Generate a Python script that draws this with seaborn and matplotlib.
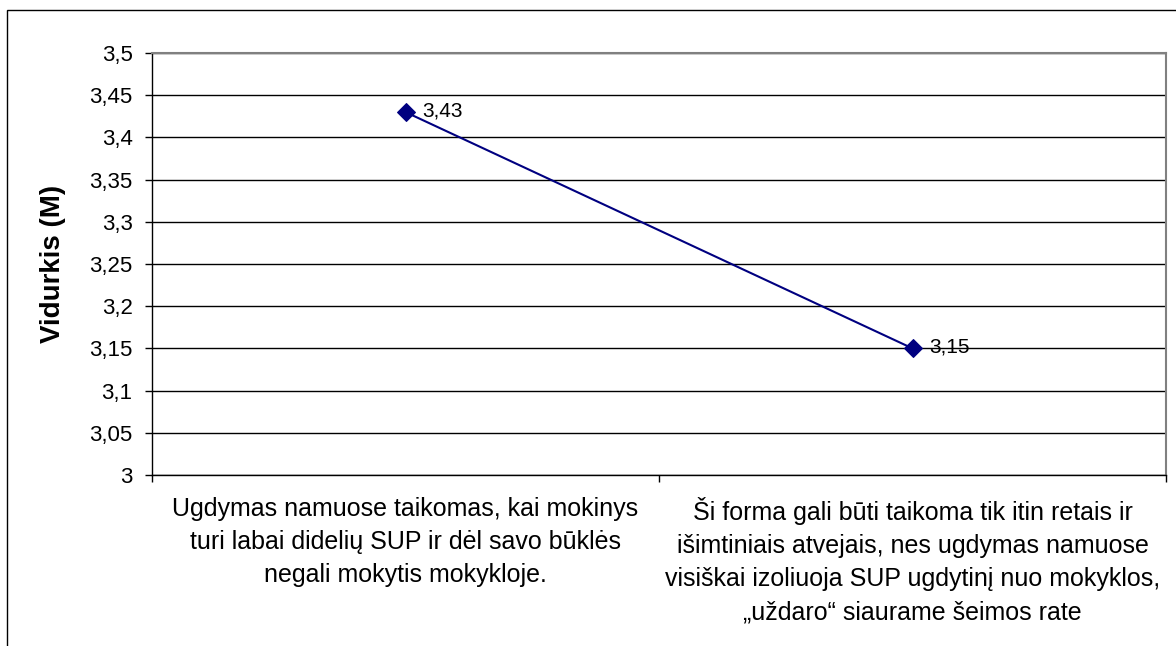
import matplotlib
matplotlib.use("Agg")
import matplotlib.pyplot as plt
import seaborn as sns
import pandas as pd
from matplotlib.patches import Rectangle
from matplotlib.ticker import FuncFormatter, FixedLocator

CATEGORIES = [
    'Ugdymas namuose taikomas, kai mokinys\nturi labai didelių SUP ir dėl savo būklės\nnegali mokytis mokykloje.',
    'Ši forma gali būti taikoma tik itin retais ir\nišimtiniais atvejais, nes ugdymas namuose\nvisiškai izoliuoja SUP ugdytinį nuo mokyklos,\n„uždaro“ siaurame šeimos rate',
]
VALUES = [3.43, 3.15]
Y_TICKS = [3.0, 3.05, 3.1, 3.15, 3.2, 3.25, 3.3, 3.35, 3.4, 3.45, 3.5]

sns.set_theme(style='white', rc={'text.color': 'black', 'axes.labelcolor': 'black',
                                 'xtick.color': 'black', 'ytick.color': 'black'})
plt.rcParams['font.family'] = ['Liberation Sans', 'DejaVu Sans']

df = pd.DataFrame({'pos': [0, 1], 'value': VALUES})

fig = plt.figure(figsize=(11.76, 6.46), dpi=100)
ax = fig.add_axes([152 / 1176, 1 - 475 / 646, (1166 - 152) / 1176, (475 - 53) / 646])

sns.lineplot(data=df, x='pos', y='value', ax=ax, color='#000080', linewidth=1.5,
             marker='D', markersize=9, markeredgecolor='#000080')

for x, v in zip(df['pos'], df['value']):
    ax.annotate(f'{v:.2f}'.replace('.', ','), (x, v), xytext=(12, 1), textcoords='offset points',
                va='center', ha='left', fontsize=15, color='black')

ax.set_xlim(-0.5, 1.5)
ax.set_ylim(3.0, 3.5)
ax.set_yticks(Y_TICKS)
ax.yaxis.set_major_formatter(FuncFormatter(lambda v, p: f'{v:g}'.replace('.', ',')))
ax.set_xticks([0, 1])
ax.set_xticklabels(CATEGORIES, fontsize=18, linespacing=1.48)
ax.xaxis.set_minor_locator(FixedLocator([-0.5, 0.5, 1.5]))
ax.tick_params(axis='x', which='major', length=0, pad=16)
ax.tick_params(axis='x', which='minor', length=5, width=1, color='black', direction='out', bottom=True)
ax.tick_params(axis='y', length=5, width=1, color='black', direction='out', left=True, labelsize=16, pad=9)

ax.grid(axis='y', color='black', linewidth=1)
ax.set_axisbelow(True)
ax.set_xlabel('')
ax.set_ylabel('Vidurkis (M)', fontsize=20, fontweight='bold', labelpad=17, color='black')

for side in ['top', 'right']:
    ax.spines[side].set_color('#808080')
    ax.spines[side].set_linewidth(1.5)
for side in ['left', 'bottom']:
    ax.spines[side].set_color('black')
    ax.spines[side].set_linewidth(1)

fig.patches.append(Rectangle((7 / 1176, -0.2), 1.2, 1.2 - 10 / 646, transform=fig.transFigure,
                             fill=False, edgecolor='black', linewidth=1))

fig.savefig('out.png', dpi=100)
